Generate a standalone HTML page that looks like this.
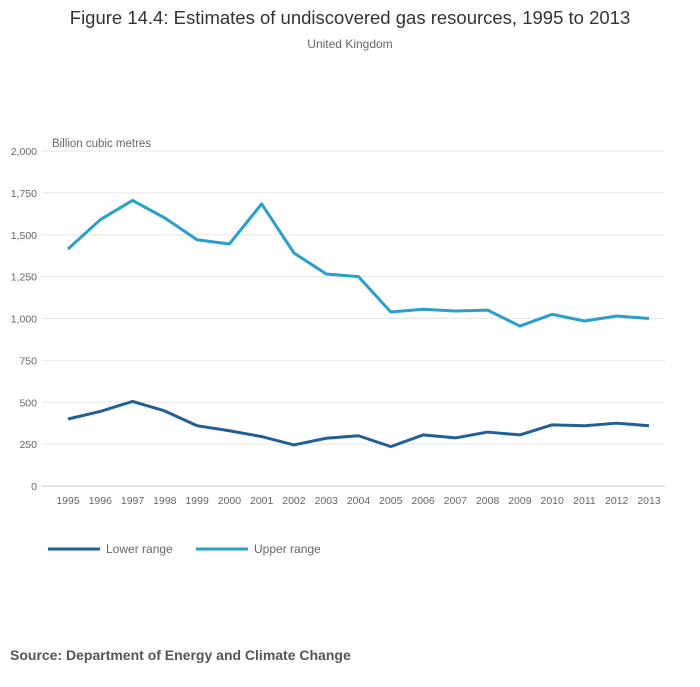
<!DOCTYPE html>
<html><head><meta charset="utf-8"><style>
html,body{margin:0;padding:0;background:#fff;}
body{width:700px;height:682px;overflow:hidden;font-family:"Liberation Sans",sans-serif;}
</style></head><body>
<svg id="chart" width="700" height="682" xmlns="http://www.w3.org/2000/svg">
<text x="350" y="24" text-anchor="middle" font-size="18.5" fill="#333">Figure 14.4: Estimates of undiscovered gas resources, 1995 to 2013</text>
<text x="350" y="48" text-anchor="middle" font-size="12" fill="#666">United Kingdom</text>
<text x="52" y="147" font-size="11.5" fill="#666">Billion cubic metres</text>
<g id="grid"></g><g id="xt"></g><g id="lines"></g>
<g>
<line x1="48" y1="549" x2="100" y2="549" stroke="#206095" stroke-width="3"/>
<text x="106" y="553" font-size="12" fill="#666">Lower range</text>
<line x1="196" y1="549" x2="248" y2="549" stroke="#27a0cc" stroke-width="3"/>
<text x="254" y="553" font-size="12" fill="#666">Upper range</text>
</g>
<text x="10" y="660" font-size="14" font-weight="bold" fill="#555">Source: Department of Energy and Climate Change</text>
</svg>
<script>
const years=[1995,1996,1997,1998,1999,2000,2001,2002,2003,2004,2005,2006,2007,2008,2009,2010,2011,2012,2013];
const lowerRange=[400,445,505,448,360,330,295,245,285,300,235,305,287,322,305,365,360,375,360];
const upperRange=[1415,1590,1705,1600,1470,1445,1684,1391,1266,1250,1039,1055,1045,1050,955,1025,985,1015,1000];
const yTicks=[0,250,500,750,1000,1250,1500,1750,2000];
const yTickLabels=["0","250","500","750","1,000","1,250","1,500","1,750","2,000"];
const NS="http://www.w3.org/2000/svg";
const x=i=>68+i*(649-68)/(years.length-1);
const y=v=>486-v*(486-151)/2000;
function mk(t,a){const e=document.createElementNS(NS,t);for(const k in a)e.setAttribute(k,a[k]);return e;}
const grid=document.getElementById('grid');
yTicks.forEach((v,i)=>{
 const l=mk('line',{x1:42,x2:665,y1:y(v),y2:y(v),stroke:v===0?'#ccc':'#e6e6e6','stroke-width':1});
 
 
 grid.appendChild(l);
 const t=mk('text',{x:37,y:y(v)+4,'text-anchor':'end','font-size':10.5,fill:'#666'});
 t.textContent=yTickLabels[i];
 
 
 grid.appendChild(t);
});
const xt=document.getElementById('xt');
years.forEach((yr,i)=>{
 const t=mk('text',{x:x(i),y:504,'text-anchor':'middle','font-size':10.5,fill:'#666'});
 t.textContent=yr;
 
 
 xt.appendChild(t);
});
const lines=document.getElementById('lines');
[[lowerRange,'#206095','line-lower-range'],[upperRange,'#27a0cc','line-upper-range']].forEach(([d,c,n])=>{
 const p=mk('polyline',{points:d.map((v,i)=>x(i)+','+y(v)).join(' '),fill:'none',stroke:c,'stroke-width':3,'stroke-linejoin':'round'});
 
 
 lines.appendChild(p);
});
</script>
</body></html>
